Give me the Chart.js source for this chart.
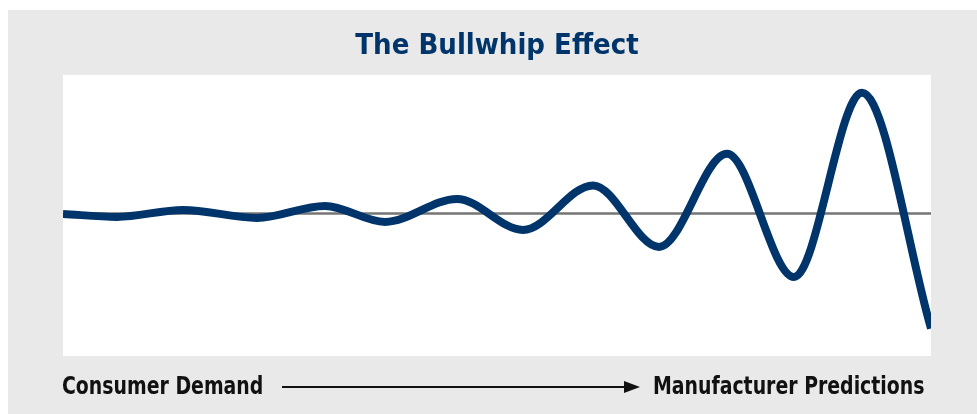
<!DOCTYPE html>
<html>
<head>
<meta charset="utf-8">
<script src="https://cdn.jsdelivr.net/npm/chart.js@4"></script>
<style>
  html, body { margin: 0; padding: 0; background: #fff; width: 977px; height: 414px; overflow: hidden; }
  #wrap { position: absolute; left: 8px; top: 10px; width: 969px; height: 404px; background: #e9e9e9; }
  #c { position: absolute; left: 0; top: 0; }
  .lbl { position: absolute; top: 361px; font: bold 24px "DejaVu Sans Condensed", "DejaVu Sans", sans-serif;
         color: #111; white-space: nowrap; line-height: 30px; transform: scaleX(0.875); transform-origin: 0 50%; }
  #arrow { position: absolute; left: 274px; top: 376px; width: 352px; height: 2px; background: #111; }
  #arrow:after { content: ""; position: absolute; right: -6px; top: -5px; border-left: 16px solid #111;
                 border-top: 6px solid transparent; border-bottom: 6px solid transparent; }
</style>
</head>
<body>
<div id="wrap">
  <canvas id="c" width="969" height="404"></canvas>
  <div class="lbl" id="left" style="left:54px">Consumer Demand</div>
  <div id="arrow"></div>
  <div class="lbl" id="right" style="left:645px">Manufacturer Predictions</div>
</div>
<script>
// ── Données ─────────────────────────────────────────────────
const TITLE = 'The Bullwhip Effect';

// position le long de la chaîne (0 = consommateur, 868 = fabricant)
const xs = [0, 54, 120, 194, 262, 322, 394, 460, 530, 596, 664, 731, 799, 868];
// écart par rapport à la demande réelle (creux et pics)
const ys = [-0.5, -3.5, 3.5, -4.5, 7.5, -8.5, 14.5, -16.5, 28, -33.5, 59.5, -63.5, 120.5, -115];

const baseX = [0, 868];
const baseY = [0, 0];

const NAVY = '#00356b';

const plotBg = {
    id: 'plotBg',
    beforeDraw(chart) {
        const { ctx, chartArea: a } = chart;
        ctx.save();
        ctx.fillStyle = '#ffffff';
        ctx.fillRect(a.left, a.top, a.right - a.left, a.bottom - a.top);
        ctx.restore();
    }
};

const ctx = document.getElementById('c').getContext('2d');
new Chart(ctx, {
    type: 'line',
    data: {
        datasets: [
            {
                label: 'Prévisions',
                data: xs.map((x, i) => ({ x, y: ys[i] })),
                borderColor: NAVY,
                borderWidth: 8,
                pointRadius: 0,
                cubicInterpolationMode: 'monotone',
                clip: 0,
                order: 1,
            },
            {
                label: 'Demande',
                data: baseX.map((x, i) => ({ x, y: baseY[i] })),
                borderColor: '#757575',
                borderWidth: 2.5,
                pointRadius: 0,
                clip: 0,
                order: 2,
            }
        ]
    },
    options: {
        responsive: false,
        animation: false,
        layout: { padding: { left: 55, right: 46, top: 0, bottom: 58 } },
        plugins: {
            legend: { display: false },
            tooltip: { enabled: false },
            title: {
                display: true,
                text: TITLE,
                color: NAVY,
                font: { family: '"DejaVu Sans Condensed", "DejaVu Sans", sans-serif', size: 29, weight: 'bold', lineHeight: 1.2 },
                padding: { top: 19, bottom: 11 }
            }
        },
        scales: {
            x: { type: 'linear', min: 0, max: 868, display: false },
            y: { min: -142.5, max: 138.5, display: false }
        }
    },
    plugins: [plotBg]
});
</script>
</body>
</html>
